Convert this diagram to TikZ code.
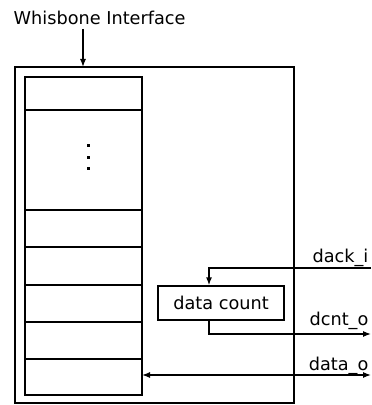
\documentclass[tikz,border=0pt]{standalone}
\usepackage{fontspec}
\setmainfont{DejaVu Sans}
\usetikzlibrary{arrows.meta}

\begin{document}
\begin{tikzpicture}[x=0.5pt,y=-0.5pt,line width=0.65pt,>={Latex[length=4pt,width=3pt]},
  every node/.style={font=\fontsize{8.85}{10}\selectfont},
  lbl/.style={anchor=base east,inner sep=0pt},
  blk/.style={draw,minimum width=63pt,minimum height=17pt,inner sep=0pt}]
\useasboundingbox (0,0) rectangle (371,405);
% outer core and register stack
\coordinate (core nw) at (15,67);
\coordinate (core se) at (294,403);
\draw (core nw) rectangle (core se);
\draw (25,77) rectangle (142,395);
\foreach \y in {110,210,247,285,322,359}
  \draw (25,\y) -- (142,\y);
\foreach \y in {146,158,169}
  \fill (86.5,\y-1.5) rectangle (89.5,\y+1.5);
% wishbone side
\node[anchor=base west,inner sep=0pt] (wb) at (13,25) {Whisbone Interface};
\coordinate (wbx) at (83,29);
\draw[->] (wbx) -- (wbx |- core nw);
% data counter
\node[blk] (cnt) at (221,303) {data count};
\coordinate (dackin) at (371,268);
\coordinate (dcntout) at (371,334);
\coordinate (datain) at (142,375);
\coordinate (dataout) at (371,375);
\draw[->] (dackin) -| ([xshift=-6pt]cnt.north);
\draw[->] ([xshift=-6pt]cnt.south) |- (dcntout);
\draw[<->] (datain) -- (dataout);
\node[lbl] (dack) at (369,262) {dack\_i};
\node[lbl] (dcnt) at (369,325) {dcnt\_o};
\node[lbl] (data) at (369,370) {data\_o};
\end{tikzpicture}
\end{document}
